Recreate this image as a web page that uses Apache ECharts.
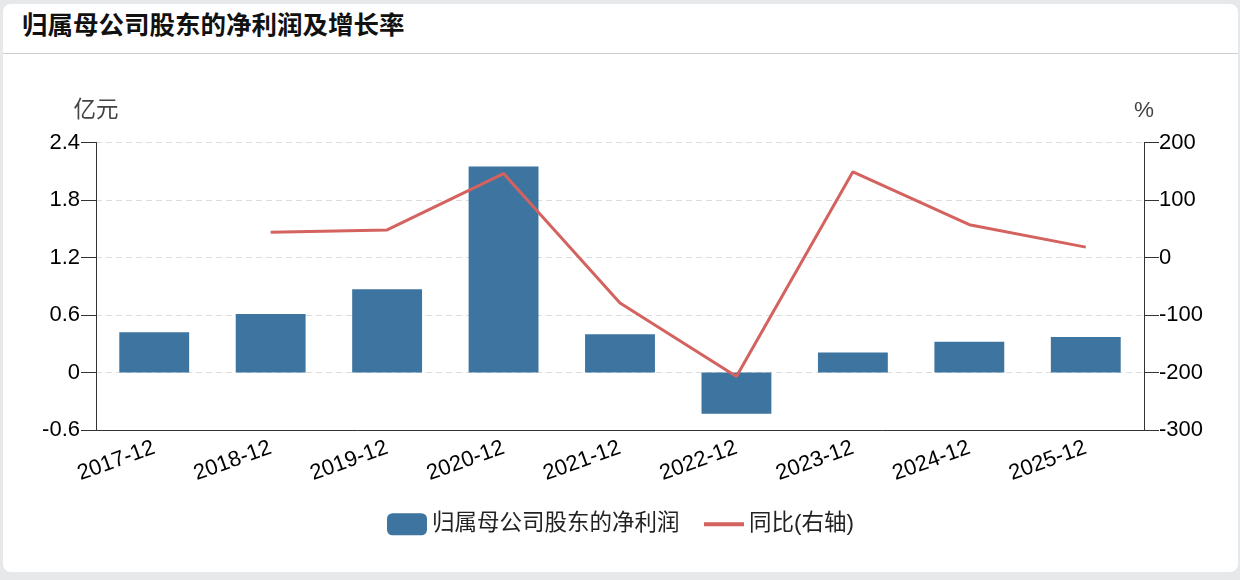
<!DOCTYPE html>
<html>
<head>
<meta charset="utf-8">
<script src="https://cdn.jsdelivr.net/npm/echarts@6/dist/echarts.min.js"></script>
<style>
  html, body { margin: 0; padding: 0; background: #e7e8ea; }
  .card {
    position: absolute; left: 3px; top: 4px; width: 1235px; height: 568px;
    background: #fff; border-radius: 8px; overflow: hidden;
  }
  .card .title {
    height: 49px; line-height: 56px; padding-left: 19px;
    font: bold 25.5px "Noto Sans CJK SC", sans-serif; color: #111;
    border-bottom: 1px solid #cfcfcf;
  }
  #chart { position: absolute; left: 0; top: 0; width: 1240px; height: 580px; }
</style>
</head>
<body>
<div class="card"><div class="title">归属母公司股东的净利润及增长率</div></div>
<div id="chart"></div>
<script>
var categories = ['2017-12', '2018-12', '2019-12', '2020-12', '2021-12', '2022-12', '2023-12', '2024-12', '2025-12'];
var netProfit = [0.42, 0.61, 0.87, 2.15, 0.40, -0.43, 0.21, 0.32, 0.37];
var yoy = [null, 44, 48, 146, -79, -207, 149, 57, 18];
var leftTicks = { min: -0.6, max: 2.4, step: 0.6 };
var rightTicks = { min: -300, max: 200, step: 100 };

var chart = echarts.init(document.getElementById('chart'));
var font = 'Helvetica, Arial, "Liberation Sans", "Noto Sans CJK SC", sans-serif';
var barColor = '#3d75a0';
var lineColor = '#d4625e';

var option = {
    textStyle: { fontFamily: font },
    grid: { left: 96, right: 96, top: 142.5, bottom: 150 },
    // two legends so the line key can be a thin bar without a dot
    legend: [
        {
            left: 382,
            top: 508,
            itemWidth: 40,
            itemHeight: 22,
            textStyle: { fontSize: 22.5, color: '#222', fontFamily: font },
            data: [{ name: '归属母公司股东的净利润', icon: 'roundRect' }]
        },
        {
            left: 699,
            top: 508,
            itemWidth: 40,
            itemHeight: 4,
            textStyle: { fontSize: 22.5, color: '#222', fontFamily: font, lineHeight: 22 },
            data: [{ name: '同比(右轴)', icon: 'rect', itemStyle: { color: lineColor } }]
        }
    ],
    xAxis: {
        type: 'category',
        data: categories,
        axisLine: { onZero: false, lineStyle: { color: '#333' } },
        axisTick: { alignWithLabel: true, length: 12, lineStyle: { color: '#333' } },
        axisLabel: { rotate: 20, fontSize: 22, color: '#000', margin: 17 }
    },
    yAxis: [
        {
            type: 'value',
            name: '亿元',
            nameGap: 20,
            nameTextStyle: { fontSize: 22.5, color: '#444' },
            min: leftTicks.min, max: leftTicks.max, interval: leftTicks.step,
            axisLine: { show: true, lineStyle: { color: '#333' } },
            axisTick: { show: true, length: 15, lineStyle: { color: '#333' } },
            axisLabel: { fontSize: 22, color: '#000', margin: 16 },
            splitLine: { lineStyle: { color: '#ddd', type: [6, 4] } }
        },
        {
            type: 'value',
            name: '%',
            nameGap: 20,
            nameTextStyle: { fontSize: 22.5, color: '#444' },
            min: rightTicks.min, max: rightTicks.max, interval: rightTicks.step,
            axisLine: { show: true, lineStyle: { color: '#333' } },
            axisTick: { show: true, length: 15, lineStyle: { color: '#333' } },
            axisLabel: { fontSize: 22, color: '#000', margin: 15 },
            splitLine: { show: false }
        }
    ],
    series: [
        {
            name: '归属母公司股东的净利润',
            type: 'bar',
            data: netProfit,
            barWidth: '60%',
            itemStyle: { color: barColor }
        },
        {
            name: '同比(右轴)',
            type: 'line',
            yAxisIndex: 1,
            data: yoy,
            symbol: 'none',
            lineStyle: { color: lineColor, width: 3 },
            itemStyle: { color: lineColor }
        }
    ]
};
chart.setOption(option);
</script>
</body>
</html>
